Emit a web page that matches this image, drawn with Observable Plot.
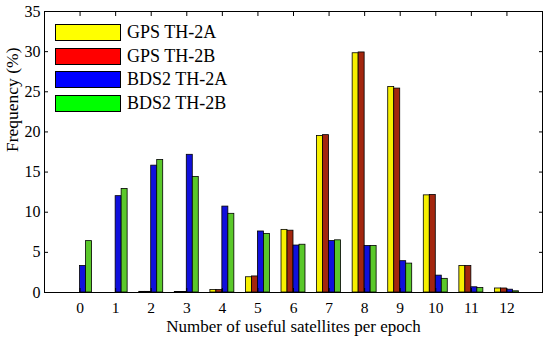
<!DOCTYPE html>
<html>
<head>
<meta charset="utf-8">
<script src="https://cdn.jsdelivr.net/npm/d3@7"></script>
<script src="https://cdn.jsdelivr.net/npm/@observablehq/plot@0.6"></script>
<style>
  html, body { margin: 0; padding: 0; background: #fff; }
  #wrap { position: relative; width: 550px; height: 338px; font-family: "Liberation Serif", "Times New Roman", serif; }
  #legend { position: absolute; left: 55px; top: 24px; }
  .row { display: flex; align-items: center; height: 17px; margin-bottom: 6.7px; }
  .sw { width: 64px; height: 15px; border: 1px solid #000; margin-right: 6px; }
  .lab { font-size: 18px; color: #000; line-height: 17px; }
</style>
</head>
<body>
<div id="wrap"></div>
<script>
const categories = [0, 1, 2, 3, 4, 5, 6, 7, 8, 9, 10, 11, 12];
const seriesNames = ["GPS TH-2A", "GPS TH-2B", "BDS2 TH-2A", "BDS2 TH-2B"];
const gpsTH2A  = [0, 0, 0.08, 0.05, 0.3, 1.9, 7.8, 19.5, 29.8, 25.6, 12.1, 3.3, 0.5];
const gpsTH2B  = [0, 0, 0.08, 0.05, 0.3, 2.0, 7.7, 19.6, 29.9, 25.4, 12.15, 3.3, 0.5];
const bds2TH2A = [3.3, 12.0, 15.8, 17.15, 10.7, 7.6, 5.85, 6.4, 5.8, 3.9, 2.1, 0.65, 0.35];
const bds2TH2B = [6.4, 12.9, 16.5, 14.4, 9.8, 7.3, 5.95, 6.5, 5.8, 3.6, 1.7, 0.55, 0.15];
const yTicks = [0, 5, 10, 15, 20, 25, 30, 35];
const legendColors = ["#ffff00", "#ff0000", "#0000ff", "#00ff00"];
const barColors = ["#f7f000", "#a3260e", "#1010dc", "#5ac82a"];

const allSeries = [gpsTH2A, gpsTH2B, bds2TH2A, bds2TH2B];
const data = [];
allSeries.forEach((vals, si) => {
  vals.forEach((v, ci) => data.push({cat: categories[ci], series: seriesNames[si], si, value: v}));
});

const barW = 0.1685;
const plot = Plot.plot({
  width: 550,
  height: 338,
  marginLeft: 44,
  marginRight: 8,
  marginTop: 11,
  marginBottom: 46,
  style: {fontFamily: '"Liberation Serif", "Times New Roman", serif', fontSize: "16px", color: "#000", background: "#fff"},
  x: {domain: [-1, 13]},
  y: {domain: [0, 35]},
  color: {domain: seriesNames, range: barColors},
  marks: [
    Plot.rectY(data, {
      x1: d => d.cat - 2 * barW + d.si * barW,
      x2: d => d.cat - 2 * barW + (d.si + 1) * barW,
      y: "value",
      fill: "series",
      stroke: "#000",
      strokeWidth: 0.8
    }),
    Plot.axisX({anchor: "bottom", ticks: categories, tickSize: -4, tickPadding: 13, tickFormat: d => String(d), fontSize: 15.5,
      label: null}),
    Plot.text(["Number of useful satellites per epoch"], {frameAnchor: "bottom", dy: 39.5, fontSize: 17, fill: "#000"}),
    Plot.axisX({anchor: "top", ticks: categories, tickSize: -4, tickFormat: () => "", label: null}),
    Plot.axisY({anchor: "left", ticks: yTicks, tickSize: -4, tickPadding: 8, fontSize: 16, label: null}),
    Plot.text(["Frequency (%)"], {frameAnchor: "left", dx: -32, rotate: -90, fontSize: 17.5, fill: "#000"}),
    Plot.axisY({anchor: "right", ticks: yTicks, tickSize: -4, tickFormat: () => "", label: null}),
    Plot.frame({stroke: "#000", strokeWidth: 1})
  ]
});

const wrap = document.getElementById("wrap");
wrap.appendChild(plot);

const legend = document.createElement("div");
legend.id = "legend";
seriesNames.forEach((name, i) => {
  const row = document.createElement("div");
  row.className = "row";
  const sw = document.createElement("div");
  sw.className = "sw";
  sw.style.background = legendColors[i];
  const lab = document.createElement("span");
  lab.className = "lab";
  lab.textContent = name;
  row.appendChild(sw);
  row.appendChild(lab);
  legend.appendChild(row);
});
wrap.appendChild(legend);
</script>
</body>
</html>
